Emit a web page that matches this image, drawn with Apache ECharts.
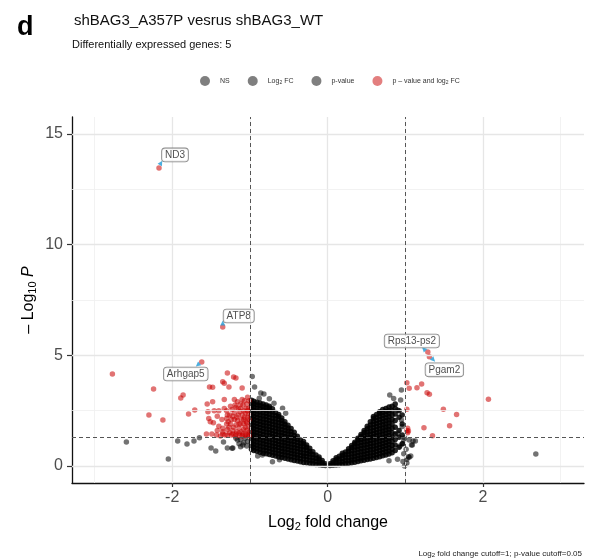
<!DOCTYPE html>
<html><head><meta charset="utf-8">
<script src="https://cdn.jsdelivr.net/npm/echarts@6/dist/echarts.min.js"></script>
<style>html,body{margin:0;padding:0;background:#fff}#c{width:590px;height:559px}</style>
</head><body><div id="c"></div>
<script>
// ---- axis ticks / grid ----
const xTicks = [-2, 0, 2];
const xMinorGrid = [-3, -1, 1, 3];
const yTicks = [0, 5, 10, 15];
const yMinorGrid = [2.5, 7.5, 12.5];
const fcCutoff = 1;
const pCutoff = 0.05;

// ---- dense non-significant cloud, read column by column: [x, y1, y2, ...] ----
const leftColumns = [
  [-0.03, 0.02, 0.1],
  [-0.07, 0.03, 0.15, 0.25],
  [-0.11, 0.05, 0.18, 0.31, 0.41],
  [-0.15, 0.07, 0.21, 0.35, 0.49],
  [-0.19, 0.1, 0.23, 0.37, 0.52, 0.64],
  [-0.23, 0.12, 0.26, 0.41, 0.54, 0.67, 0.8],
  [-0.27, 0.14, 0.28, 0.43, 0.56, 0.71, 0.84, 0.95],
  [-0.31, 0.16, 0.31, 0.45, 0.58, 0.73, 0.87, 1.0, 1.1],
  [-0.35, 0.19, 0.33, 0.48, 0.62, 0.76, 0.9, 1.03, 1.17],
  [-0.39, 0.22, 0.37, 0.5, 0.65, 0.79, 0.93, 1.07, 1.21, 1.34],
  [-0.43, 0.25, 0.4, 0.54, 0.68, 0.82, 0.96, 1.1, 1.24, 1.38, 1.52],
  [-0.47, 0.28, 0.43, 0.57, 0.71, 0.85, 0.99, 1.13, 1.27, 1.41, 1.55, 1.69],
  [-0.51, 0.31, 0.46, 0.6, 0.74, 0.88, 1.02, 1.16, 1.3, 1.44, 1.58, 1.72, 1.84],
  [-0.55, 0.35, 0.49, 0.63, 0.77, 0.91, 1.05, 1.19, 1.33, 1.47, 1.61, 1.75, 1.89, 2.0],
  [-0.59, 0.38, 0.52, 0.66, 0.8, 0.94, 1.08, 1.22, 1.36, 1.5, 1.64, 1.78, 1.92, 2.06, 2.17],
  [-0.63, 0.41, 0.55, 0.69, 0.83, 0.97, 1.11, 1.25, 1.39, 1.53, 1.67, 1.81, 1.95, 2.09, 2.23, 2.33],
  [-0.67, 0.45, 0.59, 0.73, 0.87, 1.01, 1.15, 1.29, 1.43, 1.57, 1.71, 1.85, 1.99, 2.13, 2.27, 2.42],
  [-0.71, 0.48, 0.62, 0.76, 0.9, 1.04, 1.18, 1.32, 1.46, 1.6, 1.74, 1.88, 2.02, 2.16, 2.3, 2.44, 2.58],
  [-0.75, 0.52, 0.66, 0.8, 0.94, 1.08, 1.22, 1.36, 1.5, 1.64, 1.78, 1.92, 2.06, 2.2, 2.34, 2.48, 2.62, 2.7],
  [-0.79, 0.55, 0.69, 0.83, 0.97, 1.11, 1.25, 1.39, 1.53, 1.67, 1.81, 1.95, 2.09, 2.23, 2.37, 2.51, 2.65, 2.76],
  [-0.83, 0.58, 0.72, 0.86, 1.0, 1.14, 1.28, 1.42, 1.56, 1.7, 1.84, 1.98, 2.12, 2.26, 2.4, 2.54, 2.68, 2.8],
  [-0.87, 0.62, 0.76, 0.9, 1.04, 1.18, 1.32, 1.46, 1.6, 1.74, 1.88, 2.02, 2.16, 2.3, 2.44, 2.58, 2.72, 2.84],
  [-0.91, 0.66, 0.8, 0.94, 1.08, 1.22, 1.36, 1.5, 1.64, 1.78, 1.92, 2.06, 2.2, 2.34, 2.48, 2.62, 2.76, 2.88],
  [-0.95, 0.7, 0.84, 0.98, 1.12, 1.26, 1.4, 1.54, 1.68, 1.82, 1.96, 2.1, 2.24, 2.38, 2.52, 2.66, 2.8, 2.92],
  [-0.98, 0.75, 0.89, 1.03, 1.17, 1.31, 1.45, 1.59, 1.73, 1.87, 2.01, 2.15, 2.29, 2.43, 2.57, 2.71, 2.85, 2.97]
];
const rightColumns = [
  [0.03, 0.02, 0.1],
  [0.07, 0.03, 0.14, 0.24],
  [0.11, 0.04, 0.16, 0.28, 0.37],
  [0.15, 0.06, 0.18, 0.31, 0.44],
  [0.19, 0.08, 0.2, 0.34, 0.48, 0.58],
  [0.23, 0.1, 0.23, 0.37, 0.51, 0.63],
  [0.27, 0.12, 0.25, 0.39, 0.53, 0.67, 0.78],
  [0.31, 0.14, 0.27, 0.41, 0.55, 0.69, 0.83, 0.93],
  [0.35, 0.17, 0.3, 0.44, 0.58, 0.72, 0.86, 1.0, 1.07],
  [0.39, 0.2, 0.33, 0.47, 0.61, 0.75, 0.89, 1.03, 1.17, 1.25],
  [0.43, 0.23, 0.36, 0.5, 0.64, 0.78, 0.92, 1.06, 1.2, 1.34, 1.42],
  [0.47, 0.26, 0.39, 0.53, 0.67, 0.81, 0.95, 1.09, 1.23, 1.37, 1.51, 1.6],
  [0.51, 0.29, 0.42, 0.56, 0.7, 0.84, 0.98, 1.12, 1.26, 1.4, 1.54, 1.68, 1.8],
  [0.55, 0.32, 0.45, 0.59, 0.73, 0.87, 1.01, 1.15, 1.29, 1.43, 1.57, 1.71, 1.85, 2.0],
  [0.59, 0.35, 0.48, 0.62, 0.76, 0.9, 1.04, 1.18, 1.32, 1.46, 1.6, 1.74, 1.88, 2.02, 2.16, 2.24],
  [0.63, 0.38, 0.52, 0.66, 0.8, 0.94, 1.08, 1.22, 1.36, 1.5, 1.64, 1.78, 1.92, 2.06, 2.2, 2.32],
  [0.67, 0.42, 0.56, 0.7, 0.84, 0.98, 1.12, 1.26, 1.4, 1.54, 1.68, 1.82, 1.96, 2.1, 2.24, 2.38, 2.45],
  [0.71, 0.46, 0.6, 0.74, 0.88, 1.02, 1.16, 1.3, 1.44, 1.58, 1.72, 1.86, 2.0, 2.14, 2.28, 2.42, 2.55],
  [0.75, 0.5, 0.64, 0.78, 0.92, 1.06, 1.2, 1.34, 1.48, 1.62, 1.76, 1.9, 2.04, 2.18, 2.32, 2.46, 2.6],
  [0.79, 0.54, 0.68, 0.82, 0.96, 1.1, 1.24, 1.38, 1.52, 1.66, 1.8, 1.94, 2.08, 2.22, 2.36, 2.5, 2.66],
  [0.83, 0.6, 0.76, 0.92, 1.1, 1.3, 1.5, 1.7, 1.9, 2.1, 2.3, 2.5, 2.7],
  [0.87, 0.7, 0.95, 1.2, 1.45, 1.75, 2.05, 2.35, 2.6, 2.8],
  [0.92, 0.85, 1.3, 1.6, 2.2, 2.5],
  [0.96, 1.0, 1.4, 1.9, 2.3]
];

// ---- scattered grey points outside the dense cloud [log2FC, -log10 p] ----
const greyScatter = [
  [-0.97, 4.04], [-0.94, 3.57], [-0.86, 3.3], [-0.82, 3.25], [-0.88, 3.06], [-0.75, 3.04],
  [-0.69, 2.83], [-0.58, 2.61], [-0.54, 2.38], [-0.71, 0.19], [-0.84, 0.5], [-0.62, 0.28], [-0.9, 0.45],
  [-2.59, 1.08], [-2.05, 0.32], [-1.93, 1.13], [-1.81, 0.99], [-1.72, 1.13], [-1.65, 1.27],
  [-1.5, 0.81], [-1.44, 0.68], [-1.34, 1.08], [-1.29, 0.81], [-1.22, 0.81], [-1.16, 1.17],
  [-1.09, 0.95], [-1.23, 0.8], [-1.12, 0.87], [-1.12, 1.2], [-1.06, 1.25], [-1.03, 1.1],
  [-1.08, 1.05], [-1.14, 1.0], [-1.04, 0.9], [-1.18, 1.25],
  [0.8, 3.21], [0.95, 3.43], [0.94, 2.98], [0.9, 2.53], [0.95, 2.08], [0.96, 1.78], [0.9, 1.48],
  [0.98, 1.17], [0.79, 0.24], [0.9, 0.3], [0.99, 0.0], [0.98, 0.55], [0.93, 0.9], [0.97, 1.0],
  [0.99, 1.28], [0.97, 0.2], [0.85, 3.05],
  [1.05, 1.17], [1.1, 1.13], [1.08, 0.95], [1.02, 0.3], [1.05, 0.39], [1.04, 0.42], [1.07, 0.45],
  [1.13, 1.13], [1.09, 0.95], [1.02, 0.13], [1.01, 0.75], [2.68, 0.54]
];

// ---- significant (p-value and log2 FC) points ----
const sigPoints = [
  [-2.77, 4.16], [-2.24, 3.48], [-2.3, 2.3], [-2.12, 2.08], [-1.86, 3.21], [-1.89, 3.07], [-1.79, 2.35], [-1.71, 2.53],
  [-1.29, 4.2], [-1.35, 3.8], [-1.33, 3.74], [-1.21, 4.02], [-1.18, 3.98], [-1.52, 3.57], [-1.48, 3.56], [-1.27, 3.57], [-1.1, 3.52],
  [-1.55, 2.8], [-1.48, 2.9], [-1.54, 2.45], [-1.46, 2.5], [-1.42, 2.25], [-1.53, 2.15], [-1.51, 2.0], [-1.47, 1.95],
  [-1.4, 2.5], [-1.3, 2.5], [-1.29, 2.3], [-1.33, 3.0], [-1.2, 3.0], [-1.16, 2.9], [-1.1, 3.0],
  [-1.25, 2.7], [-1.18, 2.65], [-1.12, 2.6], [-1.24, 2.1], [-1.2, 2.1], [-1.16, 2.05], [-1.08, 2.1],
  [-1.4, 1.8], [-1.35, 1.7], [-1.29, 1.65], [-1.22, 1.6], [-1.14, 1.7], [-1.08, 1.65],
  [-1.56, 1.45], [-1.49, 1.45], [-1.43, 1.4], [-1.35, 1.45], [-1.29, 1.4], [-1.22, 1.45], [-1.14, 1.48], [-1.05, 1.45],
  [-1.42, 1.6], [-1.35, 1.55],
  [-1.02, 1.4], [-1.04, 1.6], [-1.02, 1.8], [-1.05, 2.0], [-1.03, 2.2], [-1.06, 2.4], [-1.02, 2.6], [-1.04, 2.8],
  [-1.08, 1.9], [-1.1, 2.3], [-1.12, 1.9], [-1.15, 2.3], [-1.18, 1.85], [-1.09, 2.75], [-1.01, 2.95], [-1.13, 2.45],
  [-1.2, 2.4], [-1.06, 1.75], [-1.11, 1.55], [-1.17, 1.55], [-1.03, 2.5], [-1.07, 2.2], [-1.25, 1.9], [-1.28, 2.0],
  [-1.26, 1.5], [-1.19, 1.35], [-1.1, 1.35], [-1.3, 1.9],
  [-1.01, 1.55], [-1.01, 2.1], [-1.02, 2.35], [-1.04, 1.95], [-1.05, 2.6], [-1.07, 2.95], [-1.08, 2.5], [-1.09, 1.45],
  [-1.11, 2.1], [-1.12, 2.8], [-1.14, 1.9], [-1.15, 2.6], [-1.17, 2.2], [-1.18, 1.45], [-1.19, 2.75], [-1.21, 1.75],
  [-1.22, 2.25], [-1.23, 2.55], [-1.24, 1.4], [-1.26, 2.3], [-1.27, 1.75], [-1.3, 2.15], [-1.32, 1.4], [-1.33, 2.6],
  [-1.36, 2.1], [-1.38, 1.35], [-1.01, 1.35], [-1.03, 3.1], [-1.06, 1.38], [-1.13, 1.38],
  [1.02, 3.76], [1.05, 3.51], [1.15, 3.54], [1.21, 3.7], [1.28, 3.31], [1.31, 3.24], [1.02, 2.56],
  [1.49, 2.56], [1.66, 2.33], [1.57, 1.82], [1.24, 1.73], [1.35, 1.37], [2.07, 3.01],
  [1.03, 1.7], [1.03, 1.5], [1.02, 1.6], [1.04, 1.58]
];

// ---- labelled genes ----
const geneNames = ['ND3', 'ATP8', 'Arhgap5', 'Rps13-ps2', 'Pgam2'];
const geneX = [-2.17, -1.35, -1.62, 1.29, 1.31];
const geneY = [13.47, 6.28, 4.7, 5.15, 4.93];

// ---- label styling (pixel offsets from the point) ----
const labelOffset = { 'ND3': [16, -13], 'ATP8': [16, -11], 'Arhgap5': [-16, 12], 'Rps13-ps2': [-16, -11], 'Pgam2': [15, 13] };
const tipOffset = { 'ND3': [2, -5], 'ATP8': [0, -4], 'Arhgap5': [-4, 3], 'Rps13-ps2': [-4, -3], 'Pgam2': [4, 3] };
const tipRotate = { 'ND3': -30, 'ATP8': 0, 'Arhgap5': 130, 'Rps13-ps2': 45, 'Pgam2': -135 };

// ---- build categories ----
const pThresh = -Math.log10(pCutoff);
function category(p) {
  const fc = Math.abs(p[0]) > fcCutoff, pv = p[1] > pThresh;
  return fc && !pv ? 'Log2 FC' : (pv && !fc ? 'p-value' : 'NS');
}
const cloud = { 'NS': [], 'Log2 FC': [], 'p-value': [] };
[leftColumns, rightColumns].forEach(cols => cols.forEach(col => {
  for (let i = 1; i < col.length; i++) { const p = [col[0], col[i]]; cloud[category(p)].push(p); }
}));
const loose = { 'NS': [], 'Log2 FC': [], 'p-value': [] };
greyScatter.forEach(p => loose[category(p)].push(p));
const genePts = geneNames.map((n, i) => [geneX[i], geneY[i]]);
const redData = sigPoints.concat(genePts);

const FONT = 'Liberation Sans, Arial, sans-serif';
const SYM = 5.5;

const gridLines = [];
xTicks.forEach(v => gridLines.push({ xAxis: v, lineStyle: { color: '#e6e6e6', width: 1.3, type: 'solid' } }));
xMinorGrid.forEach(v => gridLines.push({ xAxis: v, lineStyle: { color: '#efefef', width: 0.8, type: 'solid' } }));
yTicks.forEach(v => gridLines.push({ yAxis: v, lineStyle: { color: '#e6e6e6', width: 1.3, type: 'solid' } }));
yMinorGrid.forEach(v => gridLines.push({ yAxis: v, lineStyle: { color: '#efefef', width: 0.8, type: 'solid' } }));

const subRich = {
  n: { fontSize: 7, fontFamily: FONT, color: '#333', lineHeight: 10 },
  s: { fontSize: 5, fontFamily: FONT, color: '#333', lineHeight: 10, padding: [4, 0, 0, 0] }
};
const legendText = {
  'NS': '{n|NS}',
  'Log2 FC': '{n|Log}{s|2}{n| FC}',
  'p-value': '{n|p-value}',
  'p - value and log2 FC': '{n|p – value and log}{s|2}{n| FC}'
};

const greySeries = [];
['NS', 'Log2 FC', 'p-value'].forEach(name => {
  greySeries.push({ name, type: 'scatter', data: loose[name], symbolSize: SYM, z: 3, silent: true,
    itemStyle: { color: '#000', opacity: 0.55 } });
  greySeries.push({ name, type: 'scatter', data: cloud[name], symbolSize: SYM, z: 3, silent: true,
    itemStyle: { color: '#000', opacity: 0.85 } });
});

const option = {
  backgroundColor: '#fff',
  animation: false,
  textStyle: { fontFamily: FONT },
  title: [
    { text: 'd', left: 12, top: 9, textStyle: { fontSize: 27, fontWeight: 'bold', color: '#000', fontFamily: FONT } },
    { text: 'shBAG3_A357P vesrus shBAG3_WT', left: 69, top: 8, textStyle: { fontSize: 15, fontWeight: 'normal', color: '#111', fontFamily: FONT } },
    { text: 'Differentially expressed genes: 5', left: 67, top: 34, textStyle: { fontSize: 11, fontWeight: 'normal', color: '#111', fontFamily: FONT } },
    { text: '{a|Log}{b|2}{a| fold change cutoff=1; p-value cutoff=0.05}', right: 3, top: 543,
      textStyle: { fontWeight: 'normal', rich: {
        a: { fontSize: 8, fontFamily: FONT, color: '#222', lineHeight: 11, fontWeight: 'normal' },
        b: { fontSize: 6, fontFamily: FONT, color: '#222', lineHeight: 11, fontWeight: 'normal', padding: [4, 0, 0, 0] } } } }
  ],
  legend: {
    left: 195, top: 71, itemWidth: 10, itemHeight: 10, itemGap: 18, icon: 'circle',
    data: ['NS', 'Log2 FC', 'p-value', 'p - value and log2 FC'],
    formatter: n => legendText[n],
    itemStyle: { opacity: 0.5 },
    textStyle: { padding: [0, 0, 0, 5], rich: subRich }
  },
  grid: { left: 72, right: 6, top: 117, bottom: 76, containLabel: false },
  xAxis: {
    type: 'value', min: -3.29, max: 3.3,
    name: '{a|Log}{b|2}{a| fold change}', nameLocation: 'middle', nameGap: 30,
    nameTextStyle: { rich: {
      a: { fontSize: 16, fontFamily: FONT, color: '#000', lineHeight: 20 },
      b: { fontSize: 11, fontFamily: FONT, color: '#000', lineHeight: 20, padding: [7, 0, 0, 0] } } },
    axisLine: { show: true, onZero: false, lineStyle: { color: '#111', width: 1.3 } },
    axisTick: { show: true, customValues: xTicks, length: 4, lineStyle: { color: '#333', width: 1.2 } },
    axisLabel: { customValues: xTicks, fontSize: 16, color: '#4d4d4d', margin: 7, fontFamily: FONT },
    splitLine: { show: false }
  },
  yAxis: {
    type: 'value', min: -0.77, max: 15.77,
    name: '{a|– Log}{b|10}{a| }{i|P}', nameLocation: 'middle', nameGap: 33, nameMoveOverlap: false,
    nameTextStyle: { rich: {
      a: { fontSize: 16, fontFamily: FONT, color: '#000', lineHeight: 20 },
      b: { fontSize: 11, fontFamily: FONT, color: '#000', lineHeight: 20, padding: [7, 0, 0, 0] },
      i: { fontSize: 16, fontFamily: FONT, color: '#000', lineHeight: 20, fontStyle: 'italic' } } },
    axisLine: { show: true, onZero: false, lineStyle: { color: '#111', width: 1.3 } },
    axisTick: { show: true, customValues: yTicks, length: 5, lineStyle: { color: '#333', width: 1.2 } },
    axisLabel: { customValues: yTicks, fontSize: 16, color: '#4d4d4d', margin: 9, fontFamily: FONT },
    splitLine: { show: false }
  },
  series: [
    { name: 'grid', type: 'scatter', data: [], z: 0, silent: true,
      markLine: { silent: true, symbol: 'none', label: { show: false }, animation: false, data: gridLines } },
    { name: 'cutoffs', type: 'scatter', data: [], z: 1, silent: true,
      markLine: { silent: true, symbol: 'none', label: { show: false }, animation: false,
        lineStyle: { color: '#555', width: 1, type: [4, 3] },
        data: [{ xAxis: -fcCutoff }, { xAxis: fcCutoff }, { yAxis: pThresh }] } }
  ].concat(greySeries).concat([
    { name: 'p - value and log2 FC', type: 'scatter', data: redData, symbolSize: SYM, z: 4, silent: true,
      itemStyle: { color: '#c80000', opacity: 0.55 } },
    { name: 'tips', type: 'scatter', z: 6, silent: true, symbol: 'triangle', symbolSize: 5,
      data: geneNames.map((n, i) => ({ value: [geneX[i], geneY[i]], symbolOffset: tipOffset[n], symbolRotate: tipRotate[n] })),
      itemStyle: { color: '#1f9ad6' } },
    { name: 'labels', type: 'scatter', z: 7, silent: true, symbolSize: 1, itemStyle: { color: 'rgba(0,0,0,0)' },
      data: geneNames.map((n, i) => ({ value: [geneX[i], geneY[i]], name: n,
        label: { show: true, position: 'inside', offset: labelOffset[n], formatter: n,
          fontSize: 10, fontFamily: FONT, color: '#222', backgroundColor: '#fff',
          borderColor: '#666', borderWidth: 0.8, borderRadius: 3, padding: [2, 3, 1, 3] } })) }
  ])
};
echarts.init(document.getElementById('c'), null, { renderer: 'canvas' }).setOption(option);
</script></body></html>
